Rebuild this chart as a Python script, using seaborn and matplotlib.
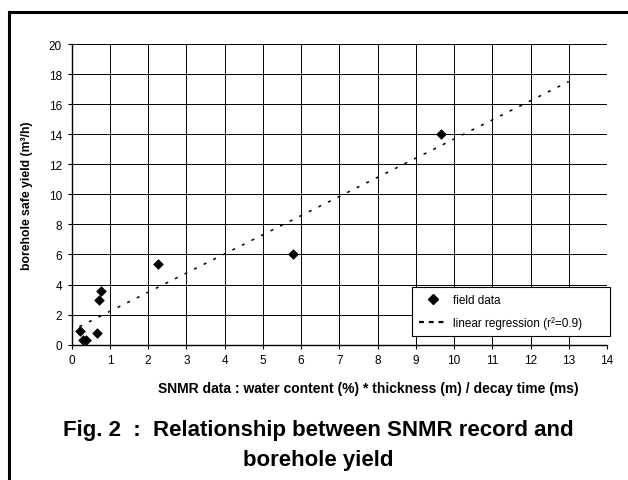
import numpy as np
import pandas as pd
import matplotlib
matplotlib.use('Agg')
import matplotlib.pyplot as plt
from matplotlib.lines import Line2D
import seaborn as sns

# field data
snmr_values = [0.22, 0.30, 0.38, 0.65, 0.72, 0.77, 2.27, 5.80, 9.65]
yield_values = [0.9, 0.3, 0.3, 0.8, 3.0, 3.6, 5.4, 6.0, 14.0]

# regression line end points (r2 = 0.9)
reg_x = [0.2, 13.0]
reg_y = [1.2, 17.5]

x_ticks = list(range(0, 15))
y_ticks = list(range(0, 21, 2))

sns.set_style('white')
plt.rcParams['font.family'] = ['Liberation Sans', 'DejaVu Sans']
plt.rcParams['text.color'] = 'black'
plt.rcParams['axes.labelcolor'] = 'black'

df = pd.DataFrame({'snmr': snmr_values, 'yield': yield_values})
reg = pd.DataFrame({'x': reg_x, 'y': reg_y})

fig = plt.figure(figsize=(6.28, 4.81), dpi=100)
ax = fig.add_axes([71.7 / 628, 1 - 345.7 / 481, (607 - 71.7) / 628, (345.7 - 45) / 481])

sns.lineplot(data=reg, x='x', y='y', ax=ax, color='black', lw=1.1,
             linestyle=(0, (2, 5)), zorder=3)
sns.scatterplot(data=df, x='snmr', y='yield', ax=ax, marker='D', s=24,
                color='black', edgecolor='black', linewidth=0.5, zorder=4)

ax.set_xlim(0, 14)
ax.set_ylim(0, 20)
ax.set_xticks(x_ticks)
ax.set_yticks(y_ticks)
ax.tick_params(axis='both', labelsize=8.5, length=3, width=0.8, direction='out',
               color='black', labelcolor='black', pad=4)
ax.tick_params(axis='x', bottom=True)
ax.tick_params(axis='y', left=True)
ax.grid(True, color='black', linewidth=0.7)
ax.set_axisbelow(True)
for side in ['top', 'right']:
    ax.spines[side].set_visible(False)
for side in ['left', 'bottom']:
    ax.spines[side].set_color('black')
    ax.spines[side].set_linewidth(1.0)

ax.set_xlabel('SNMR data : water content (%) * thickness (m) / decay time (ms)',
              fontsize=10, fontweight='bold')
ax.set_ylabel('borehole safe yield (m\u00b3/h)', fontsize=8.8, fontweight='bold')
ax.xaxis.set_label_coords((368 - 71.7) / 535.3, (345.7 - 382) / 300.7)
ax.yaxis.set_label_coords((33 - 71.7) / 535.3, 0.5)

# legend with Excel-like handles
h_points = Line2D([], [], linestyle='none', marker='D', markersize=5,
                  color='black', markeredgecolor='black')
h_line = Line2D([], [], color='black', lw=1.6, linestyle=(0, (2.2, 2.2)))
leg = ax.legend([h_points, h_line], ['field data', 'linear regression (r\u00b2=0.9)'],
                loc='lower left', mode='expand',
                bbox_to_anchor=((411.7 - 71.7) / 535.3, (345.7 - 337.3) / 300.7,
                                (610 - 411.7) / 535.3, (337.3 - 287.3) / 300.7),
                fontsize=8.5, frameon=True, fancybox=False, framealpha=1, edgecolor='black',
                handlelength=2.4, handletextpad=0.5, borderpad=0.6, labelspacing=0.9,
                borderaxespad=0)
leg.get_frame().set_linewidth(0.8)

# outer frame (left and top edges)
fx = 9 / 628
fy = 1 - 13 / 481
fig.add_artist(Line2D([fx, fx, 1.0], [0.0, fy, fy], transform=fig.transFigure,
                      color='black', lw=2.2, solid_joinstyle='miter'))

fig.text(318 / 628, 1 - 431 / 481, 'Fig. 2  :  Relationship between SNMR record and',
         ha='center', va='center', fontsize=16, fontweight='bold', color='black')
fig.text(318 / 628, 1 - 461 / 481, 'borehole yield',
         ha='center', va='center', fontsize=16, fontweight='bold', color='black')

fig.savefig('out.png', dpi=100)
